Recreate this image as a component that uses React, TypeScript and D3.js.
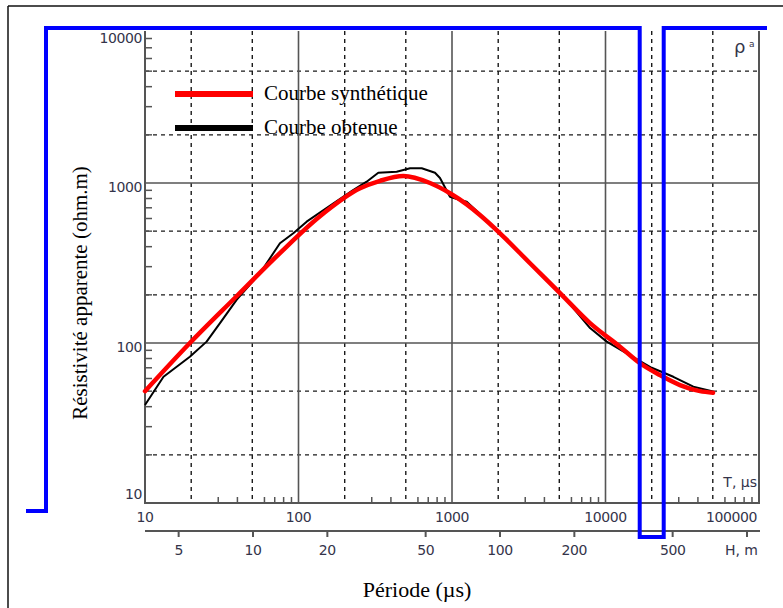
import React from "react";
import * as d3 from "d3";

// ---- Data ----
const synthT = [10, 19.6, 39.5, 75.7, 138, 252, 340, 482, 719, 970, 1247, 1520, 2055, 3223, 5055, 7930, 12420, 16780, 22650, 30560, 41270, 50200];
const synthRho = [50, 100, 196, 365, 620, 927, 1032, 1106, 1000, 863, 735, 631, 485, 315, 205, 133, 94.8, 74.7, 63, 54.6, 50, 48.9];

const obsT = [10, 13.2, 19.6, 25.2, 30.8, 39.5, 56.1, 75.7, 92.5, 113, 169, 227, 278, 331, 436, 533, 635, 775, 835, 970, 1128, 1247, 1520, 2055, 3223, 5055, 7930, 10190, 13740, 20000, 27660, 37340, 50200];
const obsRho = [41, 61.5, 82, 102, 133, 186, 273, 420, 485, 573, 747, 904, 1019, 1158, 1177, 1236, 1236, 1158, 1075, 820, 783, 764, 640, 480, 318, 207, 124, 102, 86, 70, 61.5, 53.3, 49.7];

const tTickLabels = [10, 100, 1000, 10000, 100000];
const hTickValues = [5, 10, 20, 50, 100, 200, 500, 1000];
const hTickLabels = ["5", "10", "20", "50", "100", "200", "500", ""];
const rhoTickLabels = [10, 100, 1000, 10000];
const highlightT = 20000;

const legendItems = [
  { label: "Courbe synthétique", color: "#ff0000" },
  { label: "Courbe obtenue", color: "#000000" },
];

// ---- Layout ----
const W = 783, H = 608;
const X0 = 145, X1 = 759;
const Y0 = 503; // rho = 10
const YTOP = 31;

const x = d3.scaleLog().domain([10, 100000]).range([X0, X1]);
const y = d3.scaleLog().domain([10, 10000]).range([Y0, Y0 - 480]);
const xh = d3.scaleLog().domain([10, 100]).range([253, 500]);

const minorVals = (lo: number, hi: number, mults: number[]) => {
  const out: number[] = [];
  for (let d = lo; d < hi; d *= 10) for (const m of mults) out.push(d * m);
  return out;
};

export default function App() {
  const synthPath = d3
    .line<[number, number]>()
    .x((d) => x(d[0]))
    .y((d) => y(d[1]))
    .curve(d3.curveMonotoneX)(synthT.map((t, i) => [t, synthRho[i]]) as [number, number][]);
  const obsPath = d3
    .line<[number, number]>()
    .x((d) => x(d[0]))
    .y((d) => y(d[1]))
    .curve(d3.curveLinear)(obsT.map((t, i) => [t, obsRho[i]]) as [number, number][]);

  const yDashed = minorVals(10, 10000, [2, 5]).filter((v) => y(v) > YTOP);
  const ySolid = [100, 1000];
  const xDashed = minorVals(10, 100000, [2, 5]);
  const xSolid = [100, 1000, 10000];
  const yMinor = minorVals(10, 10000, [2, 3, 4, 5, 6, 7, 8, 9]).filter((v) => y(v) > YTOP);
  const xMinor = minorVals(10, 100000, [3, 4, 6, 7, 8, 9]);

  const hx = x(highlightT);
  const blueD = `M26,511 H46 V28 H${hx - 12} V537 H${hx + 12} V28 H767`;

  const tickFont = "DejaVu Sans, Verdana, sans-serif";
  const tickColor = "#34344a";
  const serif = "Liberation Serif, Times New Roman, serif";

  return (
    <svg width={W} height={H} style={{ position: "absolute", left: 0, top: 0, background: "#fff" }}>
      {/* outer frame */}
      <line x1={8} y1={6} x2={W} y2={6} stroke="#111" strokeWidth={1.5} />
      <line x1={8} y1={6} x2={8} y2={H} stroke="#111" strokeWidth={1.5} />

      {/* grid dashed */}
      {yDashed.map((v) => (
        <line key={"yd" + v} x1={X0} x2={X1} y1={y(v)} y2={y(v)} stroke="#1a1a1a" strokeWidth={1.4} strokeDasharray="4,4" />
      ))}
      {xDashed.map((v) => (
        <line key={"xd" + v} x1={x(v)} x2={x(v)} y1={YTOP} y2={Y0} stroke="#1a1a1a" strokeWidth={1.4} strokeDasharray="4,4" />
      ))}
      {ySolid.map((v) => (
        <line key={"ys" + v} x1={X0} x2={X1} y1={y(v)} y2={y(v)} stroke="#555" strokeWidth={1.6} />
      ))}
      {xSolid.map((v) => (
        <line key={"xs" + v} x1={x(v)} x2={x(v)} y1={YTOP} y2={Y0} stroke="#555" strokeWidth={1.6} />
      ))}

      {/* axes frame */}
      <line x1={X0} x2={X0} y1={YTOP} y2={Y0 + 1} stroke="#555" strokeWidth={2} />
      <line x1={X1} x2={X1} y1={YTOP} y2={Y0 + 1} stroke="#555" strokeWidth={2} />
      <line x1={X0 - 1} x2={X1 + 1} y1={Y0} y2={Y0} stroke="#555" strokeWidth={2} />

      {yMinor.map((v) => (
        <line key={"ym" + v} x1={X0} x2={X0 + 7} y1={y(v)} y2={y(v)} stroke="#555" strokeWidth={1.5} />
      ))}
      {xMinor.map((v) => (
        <line key={"xm" + v} x1={x(v)} x2={x(v)} y1={Y0} y2={Y0 - 6} stroke="#555" strokeWidth={1.5} />
      ))}

      {/* y tick labels */}
      {rhoTickLabels.map((v) => (
        <text key={"yl" + v} x={142} y={Math.min(499, Math.max(43, y(v) + 9))} textAnchor="end" fontFamily={tickFont} fontSize={14} fill={tickColor} letterSpacing={-0.4}>
          {v}
        </text>
      ))}

      {/* x tick labels (T) */}
      {tTickLabels.map((v, i) => (
        <text
          key={"xl" + v}
          x={i === tTickLabels.length - 1 ? 757 : x(v)}
          y={522}
          textAnchor={i === tTickLabels.length - 1 ? "end" : "middle"}
          fontFamily={tickFont}
          fontSize={14}
          fill={tickColor}
          letterSpacing={-0.4}
        >
          {v}
        </text>
      ))}
      <text x={757} y={487} textAnchor="end" fontFamily={tickFont} fontSize={14} fill={tickColor}>
        T, µs
      </text>

      {/* H axis */}
      <line x1={X0} x2={X1 + 1} y1={531} y2={531} stroke="#555" strokeWidth={2} />
      {hTickValues.map((v) => (
        <line key={"ht" + v} x1={xh(v)} x2={xh(v)} y1={531} y2={537} stroke="#555" strokeWidth={2} />
      ))}
      {hTickValues.map((v, i) =>
        hTickLabels[i] ? (
          <text key={"hl" + v} x={xh(v)} y={555} textAnchor="middle" fontFamily={tickFont} fontSize={14} fill={tickColor} letterSpacing={-0.4}>
            {hTickLabels[i]}
          </text>
        ) : null
      )}
      <text x={758} y={555} textAnchor="end" fontFamily={tickFont} fontSize={14} fill={tickColor}>
        H, m
      </text>

      {/* rho a */}
      <text x={734} y={53} fontFamily={tickFont} fontSize={18} fill={tickColor}>
        ρ
      </text>
      <text x={749} y={47} fontFamily={tickFont} fontSize={9} fill={tickColor}>
        a
      </text>

      {/* curves */}
      <path d={obsPath || ""} fill="none" stroke="#000" strokeWidth={2} strokeLinejoin="round" />
      <path d={synthPath || ""} fill="none" stroke="#ff0000" strokeWidth={4.5} strokeLinejoin="round" strokeLinecap="round" />

      {/* legend */}
      {legendItems.map((it, i) => (
        <g key={it.label}>
          <line x1={175} x2={253} y1={94 + i * 34} y2={94 + i * 34} stroke={it.color} strokeWidth={6} />
          <text x={264} y={100 + i * 34} fontFamily={serif} fontSize={21} fill="#000">
            {it.label}
          </text>
        </g>
      ))}

      {/* blue annotation */}
      <path d={blueD} fill="none" stroke="#0000ff" strokeWidth={4} />

      {/* axis titles */}
      <text x={417} y={597} textAnchor="middle" fontFamily={serif} fontSize={22} fill="#000">
        Période (µs)
      </text>
      <text transform={`translate(87,293) rotate(-90)`} textAnchor="middle" fontFamily={serif} fontSize={21} fill="#000">
        Résistivité apparente (ohm.m)
      </text>
    </svg>
  );
}
